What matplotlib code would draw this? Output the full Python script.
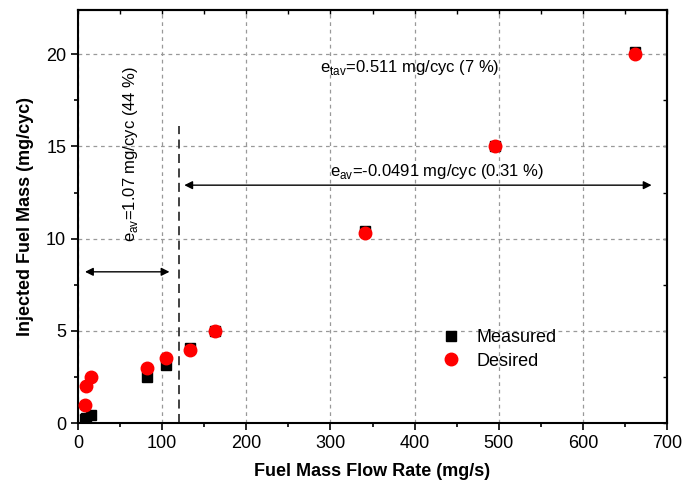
import matplotlib
matplotlib.use("Agg")
import matplotlib.pyplot as plt
from matplotlib.ticker import MultipleLocator

plt.rcParams['font.family'] = ['Liberation Sans', 'DejaVu Sans']
plt.rcParams['mathtext.fontset'] = 'custom'
plt.rcParams['mathtext.rm'] = 'Liberation Sans'

flow_rate = [8, 10, 15, 82, 104, 133, 163, 341, 495, 662]
measured = [0.22, 0.28, 0.45, 2.5, 3.15, 4.05, 4.98, 10.4, 15.05, 20.1]
desired = [1.0, 2.0, 2.5, 3.0, 3.5, 3.97, 5.0, 10.3, 15.0, 20.0]

split_x = 120
label_tav = r'e$_{\mathrm{tav}}$=0.511 mg/cyc (7 %)'
label_av_high = r'e$_{\mathrm{av}}$=-0.0491 mg/cyc (0.31 %)'
label_av_low = r'e$_{\mathrm{av}}$=1.07 mg/cyc (44 %)'

fig = plt.figure(figsize=(6.85, 4.9), dpi=100)
ax = fig.add_axes([0.1139, 0.1367, 0.8598, 0.8429])

ax.plot(flow_rate, measured, 's', color='black', markersize=7.5, label='Measured', zorder=3)
ax.plot(flow_rate, desired, 'o', color='red', markersize=9, label='Desired', zorder=4)

ax.set_xlim(0, 700)
ax.set_ylim(0, 22.4)
ax.xaxis.set_major_locator(MultipleLocator(100))
ax.xaxis.set_minor_locator(MultipleLocator(50))
ax.yaxis.set_major_locator(MultipleLocator(5))
ax.yaxis.set_minor_locator(MultipleLocator(2.5))
ax.tick_params(axis='both', which='major', labelsize=13, direction='out', length=5, width=1.2)
ax.tick_params(axis='both', which='minor', direction='out', length=3, width=1.2)
for sp in ax.spines.values():
    sp.set_linewidth(1.5)

# inward ticks on top and right sides
top = ax.secondary_xaxis('top')
top.xaxis.set_major_locator(MultipleLocator(100))
top.xaxis.set_minor_locator(MultipleLocator(50))
top.tick_params(which='both', direction='in', labeltop=False, length=3, width=1.0)
top.spines['top'].set_linewidth(1.5)
right = ax.secondary_yaxis('right')
right.yaxis.set_major_locator(MultipleLocator(5))
right.yaxis.set_minor_locator(MultipleLocator(2.5))
right.tick_params(which='both', direction='in', labelright=False, length=3, width=1.0)
right.spines['right'].set_linewidth(1.5)

ax.grid(True, which='major', linestyle=(0, (3, 3)), color='#999999', linewidth=0.9)
ax.set_axisbelow(True)

ax.set_xlabel('Fuel Mass Flow Rate (mg/s)', fontsize=13, fontweight='bold', labelpad=8)
ax.set_ylabel('Injected Fuel Mass (mg/cyc)', fontsize=13, fontweight='bold', labelpad=9)

ax.plot([split_x, split_x], [0, 16.1], linestyle=(0, (5, 3)), color='#333333', linewidth=1.3, zorder=2)

ax.annotate('', xy=(5, 8.2), xytext=(112, 8.2),
            arrowprops=dict(arrowstyle='<|-|>', color='black', lw=1.0, mutation_scale=12))
ax.annotate('', xy=(123, 12.9), xytext=(685, 12.9),
            arrowprops=dict(arrowstyle='<|-|>', color='black', lw=1.0, mutation_scale=12))

ax.text(288, 19.3, label_tav, fontsize=12, ha='left', va='center')
ax.text(300, 13.65, label_av_high, fontsize=12, ha='left', va='center')
ax.text(62, 14.6, label_av_low, fontsize=12, ha='center', va='center', rotation=90)

leg = ax.legend(loc='center left', bbox_to_anchor=(0.575, 0.178), frameon=False, fontsize=13,
                handletextpad=0.4, labelspacing=0.35, markerscale=1.0)

fig.savefig('out.png', dpi=100)
